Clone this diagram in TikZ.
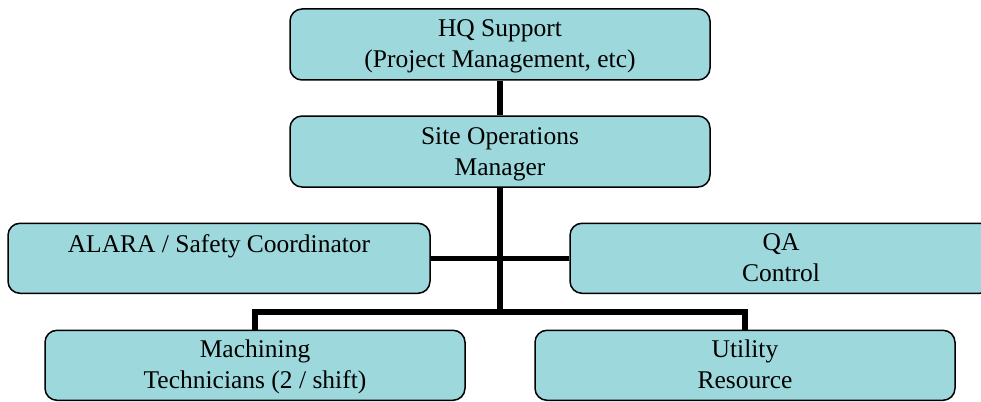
\documentclass[tikz,border=0pt]{standalone}
\usepackage{fontspec}
\setmainfont{Liberation Serif}
\definecolor{boxfill}{RGB}{157,216,220}
\newcommand\lnstrut{\rule[-7pt]{0pt}{30pt}}
\begin{document}
\begin{tikzpicture}[x=1pt,y=-1pt,
  orgbox/.style={draw=black, line width=1.5pt, fill=boxfill, rounded corners=12pt,
    inner sep=0pt, align=center, font=\fontsize{25.5}{29.5}\selectfont},
  conn/.style={draw=black, line width=5.5pt}]
\useasboundingbox (0,0) rectangle (981,401);
\clip (0,0) rectangle (981,401);
\node[orgbox, minimum width=420pt, minimum height=71pt] (hq) at (500,44.5)
  {\lnstrut HQ Support\\\lnstrut (Project Management, etc)};
\node[orgbox, minimum width=420pt, minimum height=71pt] (site) at (500,151.5)
  {\lnstrut Site Operations\\\lnstrut Manager};
\node[orgbox, minimum width=422pt, minimum height=70pt] (alara) at (219,258.3)
  {\lnstrut\raisebox{-2pt}{ALARA / Safety Coordinator}\\\lnstrut};
\node[orgbox, minimum width=422pt, minimum height=70pt] (qa) at (781,258.3)
  {\lnstrut QA\\\lnstrut Control};
\node[orgbox, minimum width=420pt, minimum height=70pt] (mach) at (255,365.3)
  {\lnstrut Machining\\\lnstrut Technicians (2 / shift)};
\node[orgbox, minimum width=420pt, minimum height=70pt] (util) at (745,365.3)
  {\lnstrut Utility\\\lnstrut Resource};
\coordinate (bus) at (500,312);
\draw[conn] (hq.south) -- (site.north);
\draw[conn] (site.south) -- (bus);
\draw[conn] (alara.east) -- (qa.west);
\draw[conn] (mach.north) |- (bus) -| (util.north);
\end{tikzpicture}
\end{document}
